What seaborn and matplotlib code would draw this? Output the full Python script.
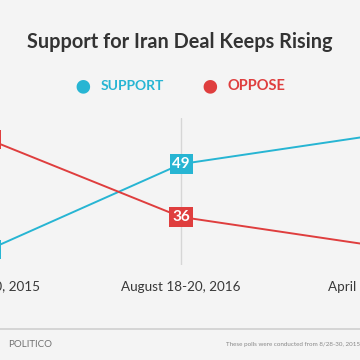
import pandas as pd
import matplotlib.pyplot as plt
import seaborn as sns

# poll dates and values
dates = ['July 18-20, 2015', 'August 18-20, 2016', 'April 2-3, 2017']
support = [28, 49, 56]
oppose = [55, 36, 29]

df = pd.DataFrame({
    'date': dates * 2,
    'x': [0, 1, 2] * 2,
    'pct': support + oppose,
    'side': ['SUPPORT'] * 3 + ['OPPOSE'] * 3,
})

cyan = '#27b5d3'
red = '#df3e3e'
bg = '#f4f4f4'

sns.set_theme(style="white")
plt.rcParams['font.family'] = ['Lato', 'DejaVu Sans']

fig = plt.figure(figsize=(3.6, 3.6), dpi=100, facecolor=bg)
ax = fig.add_axes([0, 0.264, 1, 0.408])
ax.set_facecolor(bg)

sns.lineplot(data=df, x='x', y='pct', hue='side', palette={'SUPPORT': cyan, 'OPPOSE': red},
             linewidth=1.4, legend=False, ax=ax)

# value boxes
for xi, v in enumerate(support):
    ax.text(xi, v, str(v), color='white', fontsize=11, fontweight='bold', ha='center', va='center',
            bbox=dict(boxstyle='square,pad=0.18', fc=cyan, ec='none'), clip_on=True, zorder=5)
for xi, v in enumerate(oppose):
    ax.text(xi, v, str(v), color='white', fontsize=11, fontweight='bold', ha='center', va='center',
            bbox=dict(boxstyle='square,pad=0.18', fc=red, ec='none'), clip_on=True, zorder=5)

# date labels (drawn as text so the cropped ones at the edges still show)
for xi, d in enumerate(dates):
    ax.text(xi, -0.15, d, transform=ax.get_xaxis_transform(), fontsize=9.7, color='#383838',
            ha='center', va='center', clip_on=False)

ax.set_xticks([])
ax.set_yticks([])
ax.set_xlim(0.057, 1.932)
ax.set_ylim(24.2, 60.3)
ax.set_xlabel('')
ax.set_ylabel('')
ax.axvline(1, color='#d6d6d6', lw=1, zorder=0)
sns.despine(ax=ax, left=True, bottom=True)

# title and legend
fig.text(0.5, 0.883, 'Support for Iran Deal Keeps Rising', ha='center', va='center',
         fontsize=14.3, fontweight='bold', color='#333333')
fig.text(0.23, 0.76, '\u25cf', color=cyan, fontsize=20, ha='center', va='center')
fig.text(0.28, 0.76, 'SUPPORT', color=cyan, fontsize=10, fontweight='bold', ha='left', va='center')
fig.text(0.583, 0.76, '\u25cf', color=red, fontsize=20, ha='center', va='center')
fig.text(0.633, 0.76, 'OPPOSE', color=red, fontsize=10.5, fontweight='bold', ha='left', va='center')

# footer
fig.add_artist(plt.Line2D([0, 1], [0.086, 0.086], color='#cfcfcf', lw=1.2))
fig.text(0.022, 0.044, 'POLITICO', fontsize=7, color='#707070', ha='left', va='center')
fig.text(0.628, 0.044, 'These polls were conducted from 8/28-30, 2015', fontsize=4.5,
         color='#888888', ha='left', va='center')

fig.savefig('out.png', dpi=100, facecolor=bg)
